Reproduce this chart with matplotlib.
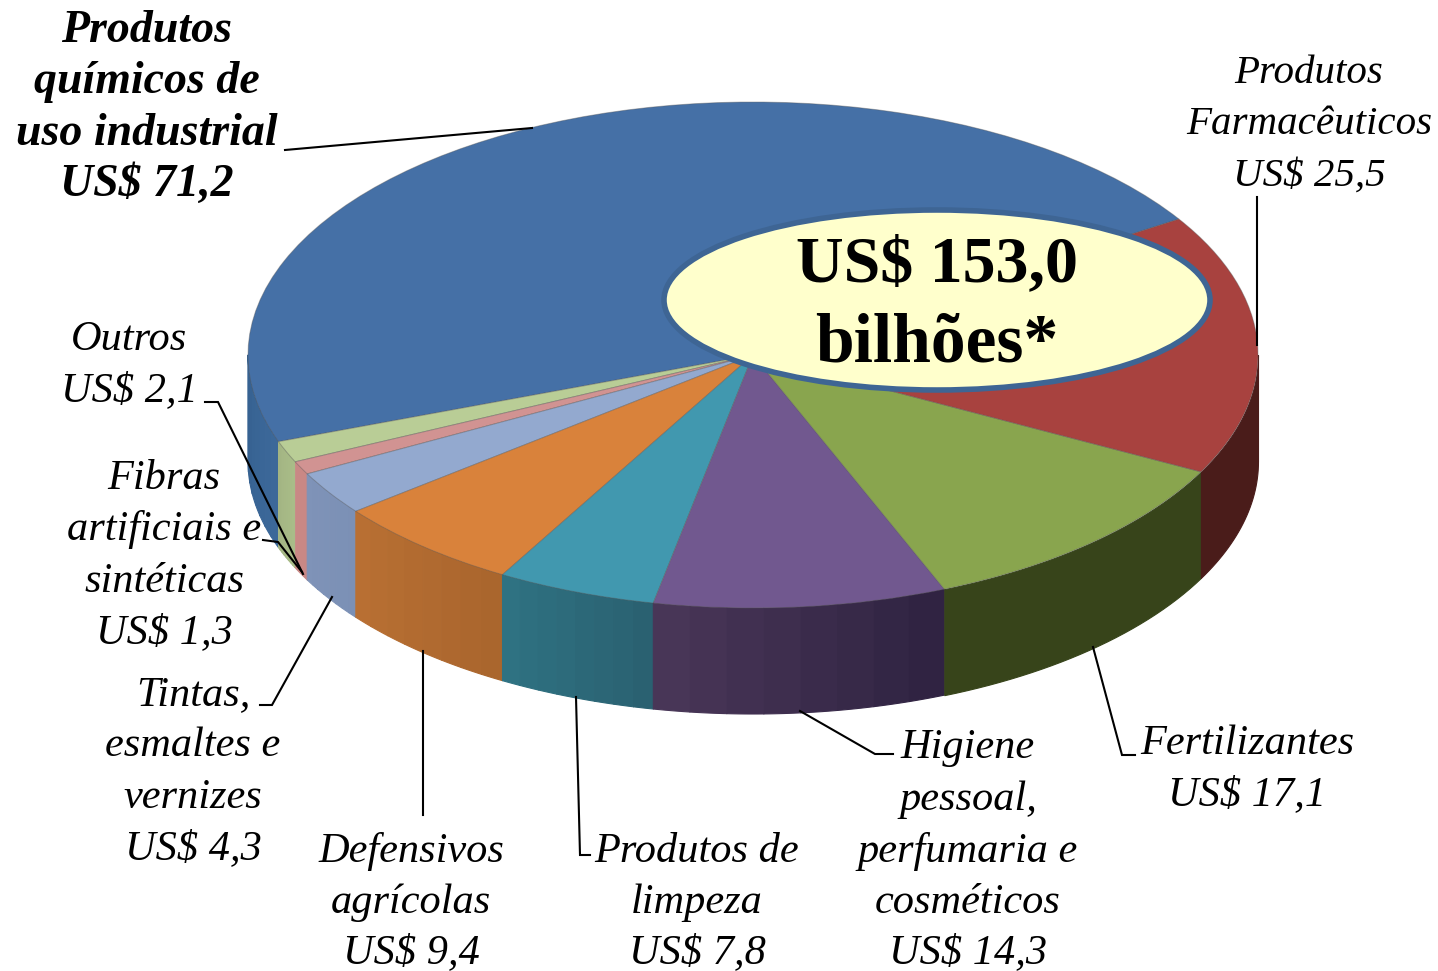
import numpy as np
import matplotlib
matplotlib.use("Agg")
import matplotlib.pyplot as plt
from matplotlib.collections import PolyCollection
from matplotlib.patches import Ellipse

W, H = 1438, 971
categories = ["Produtos químicos de uso industrial", "Outros", "Fibras artificiais e sintéticas",
              "Tintas, esmaltes e vernizes", "Defensivos agrícolas", "Produtos de limpeza",
              "Higiene pessoal, perfumaria e cosméticos", "Fertilizantes", "Produtos Farmacêuticos"]
values = [71.2, 2.1, 1.3, 4.3, 9.4, 7.8, 14.3, 17.1, 25.5]
top_colors = ["#4570A6", "#B9CD96", "#D19392", "#93A9CF", "#D9823B", "#4198AF", "#71588F", "#89A54E", "#A8423F"]
side_left = ["#35608F", "#A3B583", "#C98885", "#7F93B8", "#B97033", "#2F7383", "#4A3759", "#37441A", "#4A1C1A"]
side_right = ["#3C689A", "#A9BC88", "#C98885", "#7B90B5", "#A9652D", "#2A6070", "#2E2240", "#37441A", "#4A1C1A"]

# Geometry in pixels of the reference
cx, cy, rx, ry, depth = 753, 355, 505, 253, 106
START = 32.5

fig = plt.figure(figsize=(W / 100, H / 100), dpi=100, facecolor="white")
ax = fig.add_axes([0, 0, 1, 1])
wedges, _ = ax.pie(values, colors=top_colors, startangle=START, counterclock=True, radius=1,
                   wedgeprops=dict(edgecolor="#55555566", linewidth=0.7))
ax.set_aspect("auto")
ax.set_xlim(-cx / rx, (W - cx) / rx)
ax.set_ylim(-(H - cy) / ry, cy / ry)
d = depth / ry

def hex_rgb(h):
    return np.array(matplotlib.colors.to_rgb(h))

for w, c0, c1 in zip(wedges, side_left, side_right):
    a0, a1 = w.theta1, w.theta2
    lo, hi = max(a0, 180), min(a1, 360)
    if hi <= lo:
        continue
    bands = 1 if c0 == c1 else 8
    edges = np.linspace(lo, hi, bands + 1)
    polys, cols = [], []
    for i in range(bands):
        t = np.radians(np.linspace(edges[i], edges[i + 1], 30))
        x, y = np.cos(t), np.sin(t)
        polys.append(np.column_stack([np.r_[x, x[::-1]], np.r_[y, y[::-1] - d]]))
        f = (i + 0.5) / bands
        cols.append(hex_rgb(c0) * (1 - f) + hex_rgb(c1) * f)
    ax.add_collection(PolyCollection(polys, facecolors=cols, edgecolors=cols, linewidths=0.8, zorder=0.5))

# Overlay in pixel coordinates
ov = fig.add_axes([0, 0, 1, 1], facecolor="none")
ov.set_xlim(0, W)
ov.set_ylim(H, 0)
ov.axis("off")

ov.add_patch(Ellipse((937, 300), 546, 180, facecolor="#FFFFCC", edgecolor="#3E6594", linewidth=4, zorder=3))

SERIF = "Liberation Serif"
labels = [
    (147, [(42, "Produtos"), (93, "químicos de"), (145, "uso industrial"), (196, "US$ 71,2")], True, 33),
    (1309, [(83, "Produtos"), (134, "Farmacêuticos"), (186, "US$ 25,5")], False, 29.5),
    (129, [(350, "Outros"), (401, "US$ 2,1")], False, 30.5),
    (164, [(489, "Fibras"), (540, "artificiais e"), (592, "sintéticas"), (643, "US$ 1,3")], False, 30.5),
    (193, [(705, "Tintas,"), (756, "esmaltes e"), (808, "vernizes"), (859, "US$ 4,3")], False, 30.5),
    (411, [(862, "Defensivos"), (913, "agrícolas"), (963, "US$ 9,4")], False, 30.5),
    (697, [(862, "Produtos de"), (913, "limpeza"), (963, "US$ 7,8")], False, 30.5),
    (968, [(758, "Higiene"), (810, "pessoal,"), (862, "perfumaria e"), (913, "cosméticos"), (963, "US$ 14,3")], False, 30.5),
    (1247, [(754, "Fertilizantes"), (805, "US$ 17,1")], False, 30.5),
]
for x, lines, bold, fs in labels:
    for y, s in lines:
        ov.text(x, y, s, family=SERIF, style="italic", weight="bold" if bold else "normal",
                fontsize=fs, ha="center", va="baseline", color="black", zorder=4)

ov.text(937, 281, "US$ 153,0", family=SERIF, weight="bold", fontsize=47.5, ha="center", va="baseline", zorder=4)
ov.text(937, 361, "bilhões*", family=SERIF, weight="bold", fontsize=50, ha="center", va="baseline", zorder=4)

leaders = [
    [(285, 150), (532, 128)],
    [(1257, 197), (1257, 345)],
    [(205, 402), (218, 402), (303, 574)],
    [(263, 540), (278, 542), (302, 572)],
    [(260, 705), (272, 705), (332, 597)],
    [(423, 815), (423, 651)],
    [(590, 855), (580, 855), (576, 697)],
    [(893, 754), (875, 754), (800, 711)],
    [(1135, 755), (1122, 755), (1093, 647)],
]
for pts in leaders:
    xs, ys = zip(*pts)
    ov.plot(xs, ys, color="black", lw=1.5, zorder=3.5, solid_joinstyle="miter")

fig.savefig("out.png", dpi=100)
